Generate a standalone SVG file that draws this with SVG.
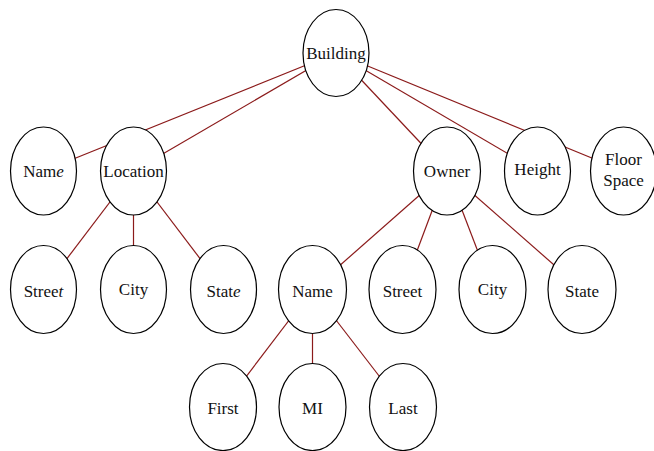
<svg xmlns="http://www.w3.org/2000/svg" width="654" height="451" viewBox="0 0 654 451">
<style>
.n ellipse{fill:#fff;stroke:#000;stroke-width:1.2}
.n text{font-family:"Liberation Serif","Times New Roman",serif;font-size:17px;fill:#111;text-anchor:middle}
#edges line{stroke:#8b1a1a;stroke-width:1.2}
</style>
<rect width="654" height="451" fill="#fff"/>
<g id="edges">
<line x1="336" y1="53" x2="43.5" y2="171"/>
<line x1="336" y1="53" x2="133.5" y2="171"/>
<line x1="336" y1="53" x2="447" y2="171"/>
<line x1="336" y1="53" x2="537.5" y2="171"/>
<line x1="336" y1="53" x2="623.5" y2="171"/>
<line x1="133.5" y1="171" x2="43.5" y2="289.5"/>
<line x1="133.5" y1="171" x2="133.5" y2="289.5"/>
<line x1="133.5" y1="171" x2="223.5" y2="289.5"/>
<line x1="447" y1="171" x2="312.5" y2="289.5"/>
<line x1="447" y1="171" x2="402.5" y2="289.5"/>
<line x1="447" y1="171" x2="492.5" y2="289.5"/>
<line x1="447" y1="171" x2="582" y2="289.5"/>
<line x1="312.5" y1="289.5" x2="223" y2="407"/>
<line x1="312.5" y1="289.5" x2="312.5" y2="407"/>
<line x1="312.5" y1="289.5" x2="403" y2="407"/>
</g>
<g id="building" class="n"><ellipse cx="336" cy="53" rx="33" ry="43.5"/><text x="336" y="59">Building</text></g>
<g id="name1" class="n"><ellipse cx="43.5" cy="171" rx="33" ry="44"/><text x="43.5" y="177">Nam<tspan font-style="italic">e</tspan></text></g>
<g id="location" class="n"><ellipse cx="133.5" cy="171" rx="33" ry="44"/><text x="133.5" y="177">Location</text></g>
<g id="owner" class="n"><ellipse cx="447" cy="171" rx="33.5" ry="44"/><text x="447" y="177">Owner</text></g>
<g id="height" class="n"><ellipse cx="537.5" cy="171" rx="33" ry="44"/><text x="537.5" y="175">Height</text></g>
<g id="floorspace" class="n"><ellipse cx="623.5" cy="171" rx="33" ry="44"/><text x="623.5" y="165">Floor</text><text x="623.5" y="186">Space</text></g>
<g id="street1" class="n"><ellipse cx="43.5" cy="289.5" rx="33" ry="44"/><text x="43.5" y="297">Stree<tspan font-style="italic">t</tspan></text></g>
<g id="city1" class="n"><ellipse cx="133.5" cy="289.5" rx="33" ry="44"/><text x="133.5" y="295">City</text></g>
<g id="state1" class="n"><ellipse cx="223.5" cy="289.5" rx="33" ry="44"/><text x="223.5" y="297">Stat<tspan font-style="italic">e</tspan></text></g>
<g id="name2" class="n"><ellipse cx="312.5" cy="289.5" rx="34" ry="44"/><text x="312.5" y="297">Name</text></g>
<g id="street2" class="n"><ellipse cx="402.5" cy="289.5" rx="33.5" ry="44"/><text x="402.5" y="297">Street</text></g>
<g id="city2" class="n"><ellipse cx="492.5" cy="289.5" rx="33.5" ry="44"/><text x="492.5" y="295">City</text></g>
<g id="state2" class="n"><ellipse cx="582" cy="289.5" rx="34" ry="44"/><text x="582" y="297">State</text></g>
<g id="first" class="n"><ellipse cx="223" cy="407" rx="33.5" ry="43.5"/><text x="223" y="414">First</text></g>
<g id="mi" class="n"><ellipse cx="312.5" cy="407" rx="33.5" ry="43.5"/><text x="312.5" y="414">MI</text></g>
<g id="last" class="n"><ellipse cx="403" cy="407" rx="33.5" ry="43.5"/><text x="403" y="414">Last</text></g>
</svg>
